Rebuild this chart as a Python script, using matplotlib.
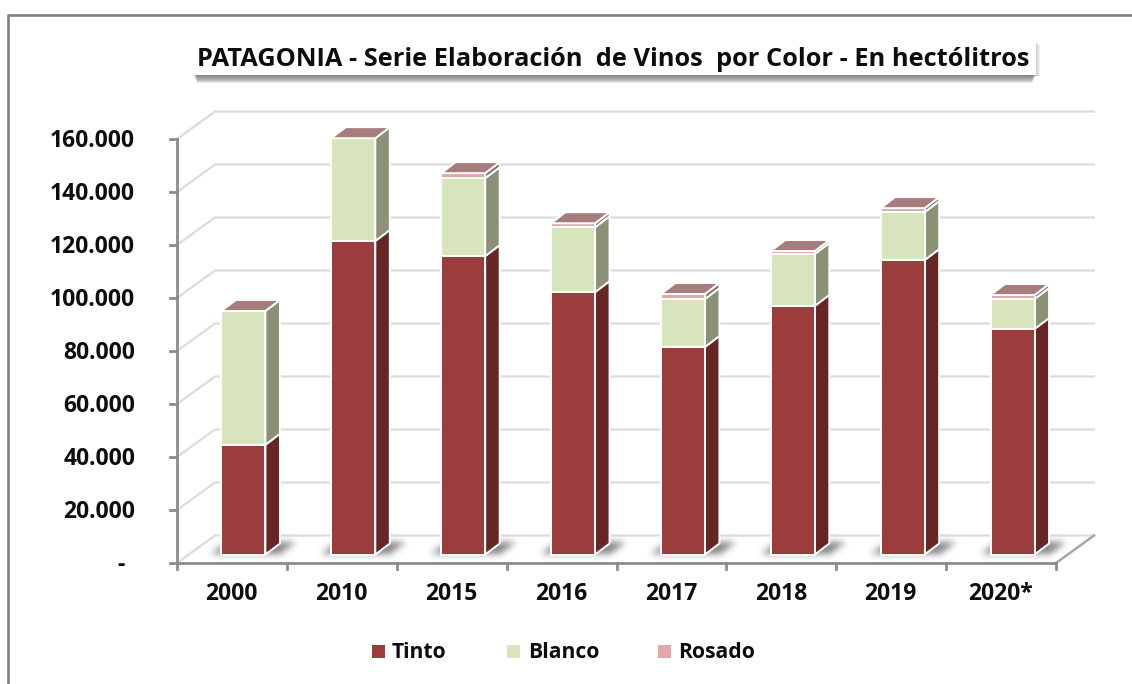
import numpy as np
import matplotlib
matplotlib.use('Agg')
import matplotlib.pyplot as plt
from matplotlib.patches import Rectangle, Polygon
from matplotlib.colors import to_rgb

years = ['2000', '2010', '2015', '2016', '2017', '2018', '2019', '2020*']
tinto = [41400, 118300, 112600, 99000, 78300, 93800, 111100, 85100]
blanco = [50500, 38800, 29400, 24500, 18100, 19600, 18100, 11300]
rosado = [0, 0, 1900, 1500, 1900, 1100, 1500, 1500]
y_ticks = [0, 20000, 40000, 60000, 80000, 100000, 120000, 140000, 160000]
y_labels = ['-', '20.000', '40.000', '60.000', '80.000', '100.000', '120.000', '140.000', '160.000']

W, H = 1132, 684
plt.rcParams['font.family'] = ['Open Sans', 'DejaVu Sans']

fig = plt.figure(figsize=(W / 100, H / 100), dpi=100)
ax = fig.add_axes([177 / W, 1 - 563 / H, 879 / W, 424 / H])

# pixel to data units
px = 8 / 879
py = 160000 / 424
wall_dx, wall_dy = 38 * px, 27.5 * py # depth of the floor
bar_dx, bar_dy = 11.5 * px, 8.5 * py  # where the bar front sits on the floor
side_dx, side_dy = 14.5 * px, 11 * py # depth of a bar
bar_w = 44 * px

grid_c = '#dcdcdc'
axis_c = '#8c8c8c'
text_c = '#0d0d0d'


def blur(a, sigma):
    r = int(3 * sigma)
    g = np.exp(-np.arange(-r, r + 1) ** 2 / (2 * sigma ** 2))
    g = g / g.sum()
    a = np.apply_along_axis(lambda m: np.convolve(m, g, mode='same'), 0, a)
    return np.apply_along_axis(lambda m: np.convolve(m, g, mode='same'), 1, a)


# shadow of one bar on the floor, slanted with the floor depth
margin = 14
sw, sh = 44 + 70, 12 + 2 * margin
yy, xx = np.mgrid[0:sh, 0:sw]
t = sh - margin - yy              # height above the bar base, row 0 on top
left = 22 - 11 + t * 1.3
right = 22 + 44 + 14 + t * 1.3
mask = ((t >= 1) & (t <= 12) & (xx >= left) & (xx <= right)).astype(float)
shadow = np.zeros((sh, sw, 4))
shadow[..., :3] = to_rgb('#666666')
shadow[..., 3] = blur(mask, 3.4) * 0.8

# outer frame of the chart
fig.add_artist(plt.Line2D([7.8 / W, 7.8 / W, 1], [0, 1 - 15 / H, 1 - 15 / H],
                          color='#808080', lw=1.9))

# walls and gridlines
for v in y_ticks:
    ax.plot([0, wall_dx, 8 + wall_dx], [v, v + wall_dy, v + wall_dy],
            color=grid_c, lw=1.6, clip_on=False, zorder=1)

# floor edge
ax.plot([8, 8 + wall_dx], [0, wall_dy], color='#a6a6a6', lw=1.8, clip_on=False, zorder=2)

# front axes
ax.plot([0, 8], [0, 0], color=axis_c, lw=2, clip_on=False, zorder=3)
ax.plot([0, 0], [0, 160000], color=axis_c, lw=2, clip_on=False, zorder=3)
for v, lab in zip(y_ticks, y_labels):
    ax.plot([-7 * px, 0], [v, v], color=axis_c, lw=2, clip_on=False, zorder=3)
    lab_x = -52 * px if lab == '-' else -42 * px
    ax.text(lab_x, v - 2 * py, lab, ha='right', va='center', fontsize=16.5, fontweight='bold', color=text_c)
for i in range(len(years) + 1):
    ax.plot([i, i], [0, -6 * py], color=axis_c, lw=2, clip_on=False, zorder=3)
for i, y in enumerate(years):
    ax.text(i + 0.5 - 0.5 * px, -31 * py, y, ha='center', va='center', fontsize=16.5, fontweight='bold', color=text_c)

# stacked bars with side and top faces
colors = [('#9b3d3c', '#662625'), ('#d7e4bc', '#8a9175'), ('#e0a9a7', '#8c6b6b')]
top_c = '#a67c7c'
for i in range(len(years)):
    x0 = i + 0.5 - bar_w / 2 + bar_dx
    ax.imshow(shadow, extent=[x0 - 22 * px, x0 + (sw - 22) * px, bar_dy - margin * py, bar_dy + (sh - margin) * py],
              aspect='auto', interpolation='bilinear', zorder=2, clip_on=False)
    base = bar_dy
    stack = [tinto[i], blanco[i], rosado[i]]
    for val, (front, side) in zip(stack, colors):
        if val <= 0:
            continue
        ax.add_patch(Polygon([[x0 + bar_w, base], [x0 + bar_w + side_dx, base + side_dy],
                              [x0 + bar_w + side_dx, base + val + side_dy], [x0 + bar_w, base + val]],
                             closed=True, fc=side, ec='white', lw=1.4, zorder=4, clip_on=False))
        ax.add_patch(Rectangle((x0, base), bar_w, val, fc=front, ec='white', lw=1.4, zorder=5, clip_on=False))
        base += val
    ax.add_patch(Polygon([[x0, base], [x0 + bar_w, base], [x0 + bar_w + side_dx, base + side_dy],
                          [x0 + side_dx, base + side_dy]],
                         closed=True, fc=top_c, ec='white', lw=1.4, zorder=5, clip_on=False))

ax.set_xlim(0, 8)
ax.set_ylim(0, 160000)
ax.axis('off')

# title box with its shadow
for k in range(9):
    fig.add_artist(Rectangle(((193 + k * 0.5) / W, 1 - (75 + k) / H), (843 - k) / W, 10 / H,
                             transform=fig.transFigure, fc='#555555', ec='none', alpha=0.14))
for k in range(4):
    fig.add_artist(Rectangle((1030 / W, 1 - 76 / H), (7 + k) / W, (34 - k) / H,
                             transform=fig.transFigure, fc='#555555', ec='none', alpha=0.08))
fig.add_artist(Rectangle((190 / W, 1 - 75 / H), 846 / W, 40 / H, transform=fig.transFigure,
                         fc='white', ec='none'))
fig.text(613 / W, 1 - 59 / H, 'PATAGONIA - Serie Elaboración  de Vinos  por Color - En hectólitros',
         ha='center', va='center', fontsize=18.3, fontweight='bold', color=text_c)

# legend
for name, xs, xt, (c, _) in zip(['Tinto', 'Blanco', 'Rosado'], [372, 507, 658], [392, 528, 678], colors):
    fig.add_artist(Rectangle((xs / W, 1 - 658 / H), 13 / W, 13 / H, transform=fig.transFigure, fc=c, ec='none'))
    fig.text(xt / W, 1 - 653 / H, name, ha='left', va='center', fontsize=15.2, fontweight='bold', color=text_c)

fig.savefig('out.png', dpi=100)
